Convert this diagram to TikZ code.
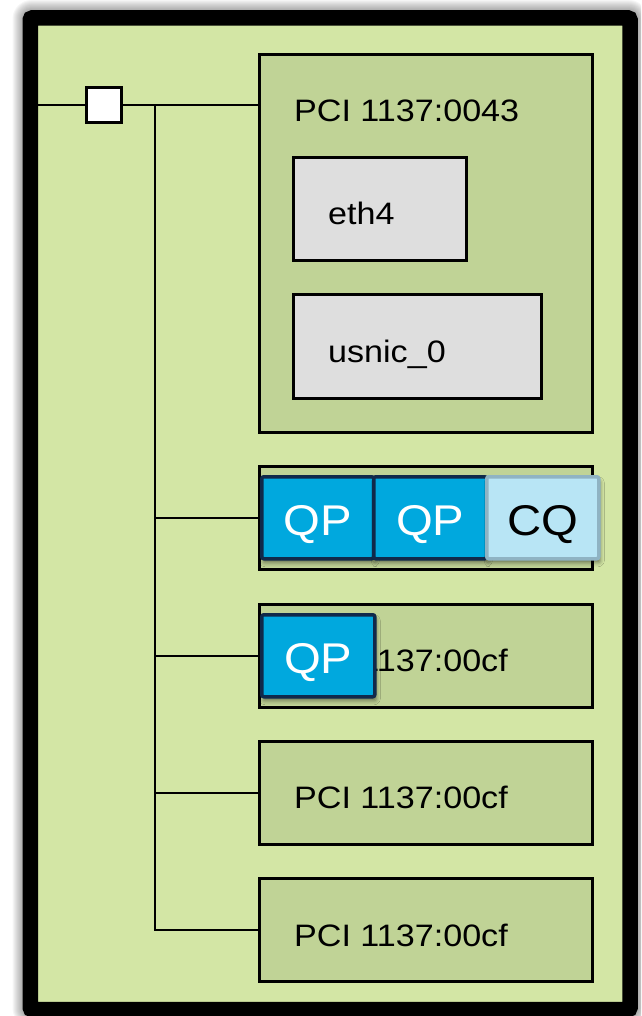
\documentclass[tikz,border=0pt]{standalone}
\usepackage{fontspec}
\newfontfamily\labfont{Liberation Sans}[FakeStretch=1.1]
\usetikzlibrary{shadows.blur}

\definecolor{framegreen}{HTML}{D3E6A5}
\definecolor{boxgreen}{HTML}{C0D396}
\definecolor{devgray}{HTML}{DEDEDE}
\definecolor{qpblue}{HTML}{00A8DE}
\definecolor{qpedge}{HTML}{10294A}
\definecolor{cqblue}{HTML}{B8E5F5}
\definecolor{cqedge}{HTML}{8FB3C3}

\begin{document}
\begin{tikzpicture}[x=1pt,y=-1pt,
  wire/.style={line width=2.6pt},
  pcibox/.style={draw, line width=2.6pt, fill=boxgreen, anchor=north west,
    inner sep=0pt, minimum width=333pt, minimum height=103pt},
  devbox/.style={draw, line width=2.6pt, fill=devgray, anchor=north west,
    inner sep=0pt, minimum height=103pt},
  hubsq/.style={draw, line width=2.6pt, fill=white, minimum size=35pt, inner sep=0pt},
  boxtext/.style={anchor=base west, inner sep=0pt,
    font=\labfont\fontsize{31}{36}\selectfont},
  queue/.style={anchor=north west, inner sep=0pt, line width=3.5pt,
    rounded corners=2pt, minimum width=112pt, minimum height=82pt,
    text height=36pt, text depth=0pt,
    font=\labfont\fontsize{43}{43}\selectfont,
    blur shadow={shadow xshift=1.5pt, shadow yshift=-4pt,
      shadow blur radius=4pt, shadow opacity=45}},
  qp/.style={queue, fill=qpblue, draw=qpedge, text=white},
  cq/.style={queue, fill=cqblue, draw=cqedge, text=black}]

\useasboundingbox (0,0) rectangle (641,1016);
\clip (0,0) rectangle (641,1016);

% soft glow around the enclosure
\foreach \i in {1,...,10}
  \fill[black, opacity=0.035, rounded corners=9pt+\i pt]
    (22.5-\i,10-\i) rectangle (638+\i,1017+\i);

% enclosure
\draw[line width=15.5pt, fill=framegreen, rounded corners=2pt]
  (30.25,18) rectangle (630,1009.5);

% devices
\node[pcibox, minimum height=378pt] (box1) at (258,53) {};
\node[boxtext] (t1) at (294,122) {PCI 1137:0043};
\node[devbox, minimum width=173pt] (eth) at (292,156) {};
\node[boxtext] (teth) at (328,225) {eth4};
\node[devbox, minimum width=248pt, minimum height=104pt] (usnic) at (292,293) {};
\node[boxtext] (tusnic) at (328,362) {usnic\_0};

\node[pcibox] (box2) at (258,465) {};
\node[pcibox] (box3) at (258,603) {};
\node[boxtext] (t3) at (294,671) {PCI 1137:00cf};
\node[pcibox] (box4) at (258,740) {};
\node[boxtext] (t4) at (294,808) {PCI 1137:00cf};
\node[pcibox] (box5) at (258,877) {};
\node[boxtext] (t5) at (294,946) {PCI 1137:00cf};

% bus wiring
\coordinate (port) at (38,105);
\node[hubsq] (hub) at (104,105) {};
\draw[wire] (port) -- (hub.west);
\draw[wire] (hub.east) -- (hub.east -| box1.west);
\coordinate (bus) at (155,105);
\draw[wire] (bus) |- (box5.west);
\foreach \b in {box2,box3,box4}
  \draw[wire] (bus |- \b.west) -- (\b.west);

% queues
\node[qp] (qp1) at (260,475) {QP};
\node[qp, minimum width=113pt] (qp2) at (372,475) {QP};
\node[cq] (cq) at (485,475) {CQ};
\node[qp, minimum width=113pt] (qp3) at (260,613) {QP};
\end{tikzpicture}
\end{document}
